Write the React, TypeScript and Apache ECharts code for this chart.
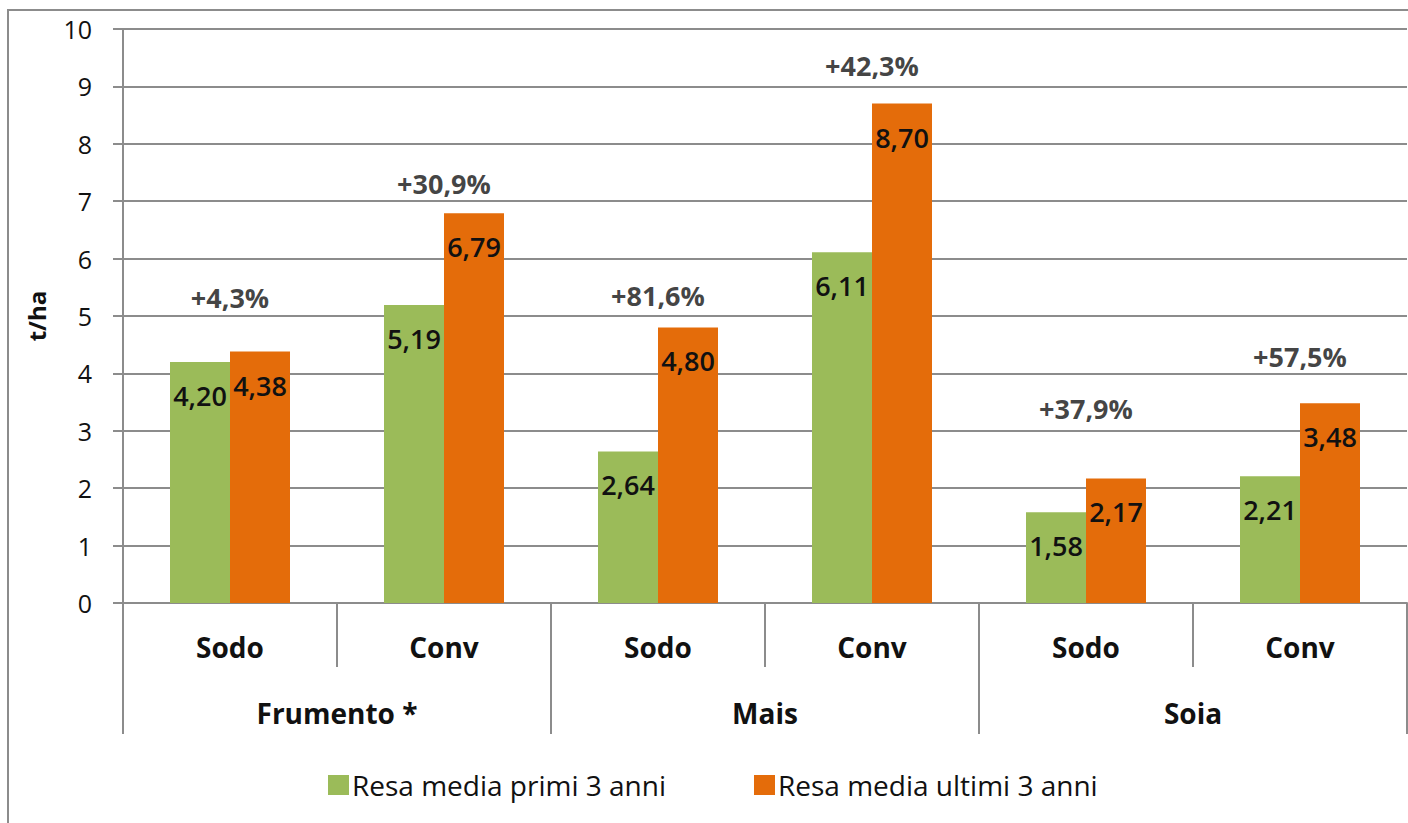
import React, { useEffect, useRef } from "react";
import * as echarts from "echarts";

const subCategories = ["Sodo", "Conv", "Sodo", "Conv", "Sodo", "Conv"];
const crops = ["Frumento *", "Mais", "Soia"];
const seriesNames = ["Resa media primi 3 anni", "Resa media ultimi 3 anni"];
const firstYears = [4.2, 5.19, 2.64, 6.11, 1.58, 2.21];
const lastYears = [4.38, 6.79, 4.8, 8.7, 2.17, 3.48];
const changeLabels = ["+4,3%", "+30,9%", "+81,6%", "+42,3%", "+37,9%", "+57,5%"];
const changeLabelY = [5.33, 7.3, 5.35, 9.36, 3.38, 4.3];

const FONT = "'Open Sans', 'DejaVu Sans', sans-serif";
const GRAY = "#8c8c8c";

const fmt = (v: number) => v.toFixed(2).replace(".", ",");

export default function App() {
  const ref = useRef<HTMLDivElement>(null);
  useEffect(() => {
    if (!ref.current) return;
    const chart = echarts.init(ref.current, null, { renderer: "svg" });
    const dataLabel = {
      show: true,
      position: "insideTop",
      distance: 20,
      color: "#111",
      fontFamily: FONT,
      fontSize: 27,
      fontWeight: 600,
      formatter: (p: any) => fmt(p.value),
    };
    chart.setOption({
      animation: false,
      backgroundColor: "#fff",
      graphic: [
        {
          type: "rect",
          shape: { x: 8, y: 10, width: 1460, height: 900 },
          style: { fill: "none", stroke: GRAY, lineWidth: 2 },
          silent: true,
        },
      ],
      grid: { left: 123, right: 1, top: 29, bottom: 220, containLabel: false },
      legend: {
        data: seriesNames,
        left: 323,
        top: 766,
        icon: "rect",
        itemWidth: 21,
        itemHeight: 20,
        itemGap: 88,
        textStyle: { fontFamily: FONT, fontSize: 28, color: "#111", padding: [0, 0, 0, -2] },
      },
      xAxis: [
        {
          type: "category",
          data: subCategories,
          position: "bottom",
          axisLine: { show: true, lineStyle: { color: GRAY, width: 2 } },
          axisTick: { show: true, interval: 0, length: 64, lineStyle: { color: GRAY, width: 2 } },
          axisLabel: {
            interval: 0,
            margin: 30,
            color: "#111",
            fontFamily: FONT,
            fontWeight: "bold",
            fontSize: 28,
            lineHeight: 28,
          },
        },
        {
          type: "category",
          data: crops,
          position: "bottom",
          axisLine: { show: false },
          axisTick: { show: true, interval: 0, length: 131, lineStyle: { color: GRAY, width: 2 } },
          axisLabel: {
            interval: 0,
            margin: 96,
            color: "#111",
            fontFamily: FONT,
            fontWeight: "bold",
            fontSize: 28,
            lineHeight: 28,
          },
        },
      ],
      yAxis: {
        type: "value",
        min: 0,
        max: 10,
        interval: 1,
        name: "t/ha",
        nameLocation: "middle",
        nameRotate: 90,
        nameGap: 75,
        nameTextStyle: { fontFamily: FONT, fontWeight: "bold", fontSize: 24, color: "#111" },
        axisLine: { show: true, lineStyle: { color: GRAY, width: 2 } },
        axisTick: { show: true, length: 10, lineStyle: { color: GRAY, width: 2 } },
        axisLabel: { margin: 31, color: "#111", fontFamily: FONT, fontSize: 25 },
        splitLine: { show: true, lineStyle: { color: GRAY, width: 2 } },
      },
      series: [
        {
          name: seriesNames[0],
          type: "bar",
          data: firstYears,
          barWidth: 60,
          barGap: "0%",
          itemStyle: { color: "#9BBB59" },
          label: dataLabel,
          z: 3,
        },
        {
          name: seriesNames[1],
          type: "bar",
          data: lastYears,
          barWidth: 60,
          barGap: "0%",
          itemStyle: { color: "#E46C0A" },
          label: dataLabel,
          z: 3,
        },
        {
          name: "variazione",
          type: "scatter",
          data: changeLabelY,
          symbolSize: 0,
          silent: true,
          label: {
            show: true,
            position: "inside",
            color: "#111",
            fontFamily: FONT,
            fontSize: 27,
            fontWeight: "bold",
            formatter: (p: any) => changeLabels[p.dataIndex],
          },
          z: 4,
        },
      ],
    });
    return () => chart.dispose();
  }, []);
  return (
    <div
      ref={ref}
      style={{ position: "fixed", left: 0, top: 0, width: 1408, height: 823, background: "#fff" }}
    />
  );
}
